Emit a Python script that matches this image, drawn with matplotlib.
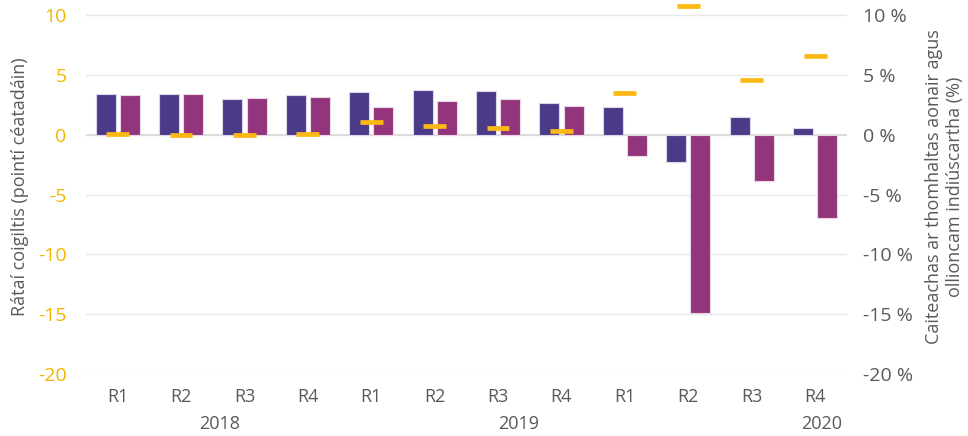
import numpy as np
import matplotlib
matplotlib.use("Agg")
import matplotlib.pyplot as plt

quarters = ['R1', 'R2', 'R3', 'R4'] * 3
years = ['2018', '2019', '2020']
saving_rate = [3.36, 3.40, 3.00, 3.28, 3.56, 3.72, 3.67, 2.67, 2.30, -2.28, 1.47, 0.58]
consumption = [3.28, 3.42, 3.08, 3.17, 2.30, 2.83, 2.97, 2.36, -1.80, -14.90, -3.83, -6.97]
income = [0.05, -0.05, -0.05, 0.05, 1.03, 0.70, 0.55, 0.30, 3.47, 10.75, 4.60, 6.56]

purple = '#4b3a87'
magenta = '#93357d'
yellow = '#fdb913'
grey = '#595959'

plt.rcParams['font.family'] = ['Open Sans', 'DejaVu Sans']
plt.rcParams['axes.unicode_minus'] = False

fig = plt.figure(figsize=(9.68, 4.36), dpi=100)
ax = fig.add_axes([0.0888, 0.142, 0.786, 0.858])

x = np.arange(len(quarters))
w = 0.315
ax.bar(x - 0.19, saving_rate, w, color=purple, edgecolor='#ddd6ea', linewidth=0.8, zorder=3)
ax.bar(x + 0.19, consumption, w, color=magenta, edgecolor='#ead6e4', linewidth=0.8, zorder=3)
ax.hlines(income, x - 0.18, x + 0.18, color=yellow, linewidth=3.4, zorder=4)

ax.set_xlim(-0.5, len(quarters) - 0.5)
ax.set_ylim(-20, 11.25)
ax.set_yticks(np.arange(-20, 11, 5))
ax.yaxis.grid(True, color='#e8e8e8', linewidth=1, zorder=0)
ax.axhline(0, color='#d9d9d9', linewidth=1.2, zorder=2)
for s in ax.spines.values():
    s.set_visible(False)
ax.tick_params(axis='both', length=0)
ax.tick_params(axis='y', labelcolor='#f5b400', labelsize=14, pad=14)
ax.set_xticks(x)
ax.set_xticklabels(quarters, fontsize=13, color=grey)
ax.tick_params(axis='x', pad=10)
ax.set_ylabel('Rátaí coigiltis (pointí céatadáin)', fontsize=13, color=grey, labelpad=6)

ax2 = ax.twinx()
ax2.set_ylim(ax.get_ylim())
ax2.set_yticks(np.arange(-20, 11, 5))
ax2.set_yticklabels([f'{v} %' for v in range(-20, 11, 5)])
ax2.tick_params(axis='y', length=0, labelcolor=grey, labelsize=14, pad=12)
for s in ax2.spines.values():
    s.set_visible(False)
ax2.set_ylabel('Caiteachas ar thomhaltas aonair agus\nollioncam indiúscartha (%)',
               fontsize=13, color=grey, labelpad=8)

# year labels under the quarter ticks
for lab, xp in zip(years, [1.6, 6.32, 11.1]):
    ax.text(xp, -0.133, lab, transform=ax.get_xaxis_transform(), ha='center', va='center',
            fontsize=13, color=grey)

fig.savefig('out.png', dpi=100)
